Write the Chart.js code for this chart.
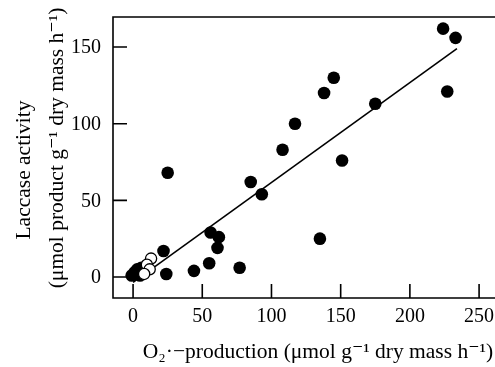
<!DOCTYPE html>
<html>
<head>
<meta charset="utf-8">
<script src="https://cdn.jsdelivr.net/npm/chart.js@4/dist/chart.umd.min.js"></script>
<style>
  html, body { margin: 0; padding: 0; background: #fff; }
  .chart-container { width: 495px; height: 367px; }
</style>
</head>
<body>
<div class="chart-container"><canvas id="chart"></canvas></div>
<script>
// Filled circles
const filledX = [224, 233, 227, 145, 138, 175, 117, 108, 85, 93, 151, 135, 25, 56, 62, 61, 22, 24, 44, 55, 77, -1, 1, 6, 5, 3];
const filledY = [162, 156, 121, 130, 120, 113, 100, 83, 62, 54, 76, 25, 68, 29, 26, 19, 17, 2, 4, 9, 6, 1, 3, 6, 1, 5];
// Open circles
const openX = [13, 10, 12, 8];
const openY = [12, 8, 5, 2];
// Regression line end points
const fitX = [0, 234];
const fitY = [-3.5, 149];

const xTickValues = [0, 50, 100, 150, 200, 250];
const yTickValues = [0, 50, 100, 150];

const xTitle = "O\u2082\u00b7\u2212production (\u03bcmol g\u207b\u00b9 dry mass h\u207b\u00b9)";
const yTitle = ["Laccase activity", "(\u03bcmol product g\u207b\u00b9 dry mass h\u207b\u00b9)"];

const serif = "'Liberation Serif', 'DejaVu Serif', serif";
const ink = "#000";

const toPoints = (xs, ys) => xs.map((x, i) => ({ x: x, y: ys[i] }));

// frame, inward ticks, tick labels and axis titles
const framePlugin = {
  id: "frame",
  afterDraw(chart) {
    const { ctx, chartArea } = chart;
    const { left, right, top, bottom } = chartArea;
    const xScale = chart.scales.x;
    const yScale = chart.scales.y;
    ctx.save();
    ctx.strokeStyle = ink;
    ctx.lineWidth = 1.6;
    ctx.beginPath();
    ctx.moveTo(right, top);
    ctx.lineTo(left, top);
    ctx.lineTo(left, bottom);
    ctx.lineTo(right, bottom);
    yTickValues.forEach((v) => {
      const py = yScale.getPixelForValue(v);
      ctx.moveTo(left, py);
      ctx.lineTo(left + 14, py);
    });
    xTickValues.forEach((v) => {
      const px = xScale.getPixelForValue(v);
      ctx.moveTo(px, bottom);
      ctx.lineTo(px, bottom - 14);
    });
    ctx.stroke();

    ctx.fillStyle = ink;
    ctx.font = "20px " + serif;
    ctx.textBaseline = "middle";
    ctx.textAlign = "right";
    yTickValues.forEach((v) => {
      ctx.fillText(String(v), left - 12, yScale.getPixelForValue(v) + 1);
    });
    ctx.textAlign = "center";
    xTickValues.forEach((v) => {
      ctx.fillText(String(v), xScale.getPixelForValue(v), 317);
    });

    ctx.font = "21.5px " + serif;
    ctx.fillText(xTitle, 318, 352);

    ctx.rotate(-Math.PI / 2);
    ctx.fillText(yTitle[0], -170, 24);
    ctx.fillText(yTitle[1], -148, 57);
    ctx.restore();
  },
};

const chart = new Chart(document.querySelector("#chart").getContext("2d"), {
  type: "scatter",
  data: {
    datasets: [
      {
        type: "line",
        label: "Fit",
        data: toPoints(fitX, fitY),
        borderColor: ink,
        borderWidth: 1.6,
        pointRadius: 0,
        fill: false,
        order: 3,
      },
      {
        label: "Filled",
        data: toPoints(filledX, filledY),
        backgroundColor: ink,
        borderColor: ink,
        borderWidth: 0,
        pointRadius: 6.3,
        order: 2,
      },
      {
        label: "Open",
        data: toPoints(openX, openY),
        backgroundColor: "#fff",
        borderColor: ink,
        borderWidth: 1.3,
        pointRadius: 5.6,
        order: 1,
      },
    ],
  },
  options: {
    responsive: true,
    maintainAspectRatio: false,
    animation: false,
    layout: { autoPadding: false, padding: { top: 17, right: 0, left: 0, bottom: 0 } },
    plugins: {
      legend: { display: false },
      tooltip: { enabled: false },
    },
    scales: {
      x: {
        type: "linear",
        min: -14.5,
        max: 261.5,
        grid: { display: false, drawTicks: false },
        border: { display: false },
        ticks: { display: false },
        afterFit: (scale) => {
          scale.height = 69;
          scale.paddingLeft = 0;
          scale.paddingRight = 0;
        },
      },
      y: {
        type: "linear",
        min: -13.7,
        max: 169.6,
        grid: { display: false, drawTicks: false },
        border: { display: false },
        ticks: { display: false },
        afterFit: (scale) => {
          scale.width = 113;
          scale.paddingTop = 0;
          scale.paddingBottom = 0;
        },
      },
    },
  },
  plugins: [framePlugin],
});
</script>
</body>
</html>
